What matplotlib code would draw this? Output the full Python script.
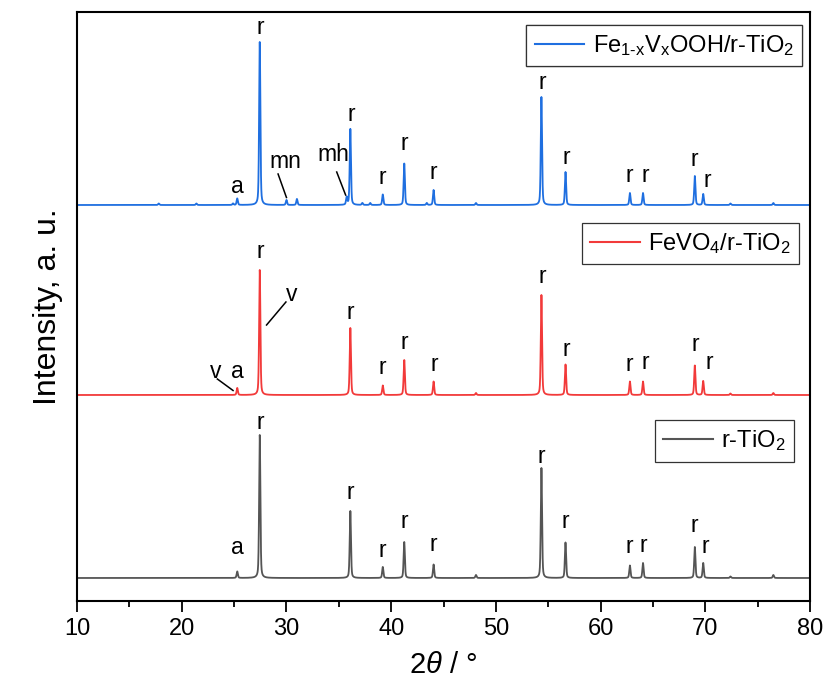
import numpy as np
import matplotlib
matplotlib.use('Agg')
import matplotlib.pyplot as plt
from matplotlib.lines import Line2D

plt.rcParams['font.family'] = ['Liberation Sans', 'DejaVu Sans']
plt.rcParams['mathtext.fontset'] = 'custom'
plt.rcParams['mathtext.rm'] = 'Liberation Sans'
plt.rcParams['mathtext.it'] = 'Liberation Sans:italic'

# peak positions (2theta) and heights (a.u.)
tio2_pos = [25.3, 27.45, 36.1, 39.2, 41.25, 44.05, 48.1, 54.35, 56.65, 62.8, 64.05, 69.0, 69.8, 72.4, 76.5]
tio2_h = [6.5, 143, 67, 11, 36, 13.5, 3, 110, 35.5, 12.5, 15, 31, 15, 1.5, 3]

fevo4_pos = [25.3, 27.45, 36.1, 39.2, 41.25, 44.05, 48.1, 54.35, 56.65, 62.8, 64.05, 69.0, 69.8, 72.4, 76.5]
fevo4_h = [7, 125, 67, 9.5, 35, 13.5, 2, 100, 30.5, 13.5, 13.5, 29.5, 14, 1.5, 2]

fevooh_pos = [17.8, 21.4, 24.9, 25.3, 27.45, 30.0, 31.0, 35.75, 36.1, 37.25, 38.0, 39.2, 41.25, 43.4, 44.05,
              48.1, 54.35, 56.65, 62.8, 64.05, 69.0, 69.8, 72.4, 76.5]
fevooh_h = [1.5, 1.5, 1.5, 6.5, 163, 5, 6, 7.5, 76, 2, 2, 10.5, 41.5, 2, 15,
            2, 108, 33, 12, 12, 29, 11, 1.5, 2]

offsets = [23, 206, 396]
names = ['r-TiO$_2$', 'FeVO$_4$/r-TiO$_2$', r'Fe$_{\mathrm{1\text{-}x}}$V$_\mathrm{x}$OOH/r-TiO$_2$']
colors = ['#555555', '#f23a3a', '#1f6fe0']

# peak labels: text, 2theta, height above own baseline
tio2_lbl = [('a', 25.3, 30), ('r', 27.5, 155), ('r', 36.1, 85), ('r', 39.2, 27), ('r', 41.25, 56),
            ('r', 44.05, 33), ('r', 54.35, 121), ('r', 56.65, 56), ('r', 62.7, 31), ('r', 64.1, 32),
            ('r', 68.95, 52), ('r', 70.0, 31)]
fevo4_lbl = [('v', 23.2, 23), ('a', 25.3, 23), ('r', 27.5, 143), ('v', 30.5, 100), ('r', 36.1, 82),
             ('r', 39.2, 27), ('r', 41.25, 52), ('r', 44.1, 30), ('r', 54.4, 118), ('r', 56.7, 45),
             ('r', 62.7, 30), ('r', 64.3, 32), ('r', 69.0, 50), ('r', 70.4, 32)]
fevooh_lbl = [('a', 25.3, 19), ('r', 27.5, 178), ('mn', 29.9, 44), ('mh', 34.5, 51), ('r', 36.2, 91),
              ('r', 39.2, 28), ('r', 41.25, 62), ('r', 44.05, 33), ('r', 54.4, 123), ('r', 56.7, 48),
              ('r', 62.7, 30), ('r', 64.3, 30), ('r', 68.95, 46), ('r', 70.2, 25)]
# leader lines: (x0, y0, x1, y1) relative to own baseline
fevo4_lead = [(23.4, 16, 24.9, 4.5), (29.95, 93, 28.1, 70)]
fevooh_lead = [(29.2, 31, 30.0, 7.5), (34.8, 33, 35.65, 10)]


def pattern(x, pos, h, fwhm=0.14):
    y = np.zeros_like(x)
    for p, a in zip(pos, h):
        g = np.exp(-4 * np.log(2) * (x - p) ** 2 / fwhm ** 2)
        l = 1 / (1 + 4 * (x - p) ** 2 / fwhm ** 2)
        y += a * (0.6 * g + 0.4 * l)
    return y


x = np.arange(10, 80.001, 0.01)
series = [(tio2_pos, tio2_h), (fevo4_pos, fevo4_h), (fevooh_pos, fevooh_h)]
labels = [tio2_lbl, fevo4_lbl, fevooh_lbl]
leads = [[], fevo4_lead, fevooh_lead]

fig = plt.figure(figsize=(8.23, 6.9), dpi=100)
ax = fig.add_axes([0.0936, 0.129, 0.8906, 0.8536])

for (pos, h), off, col, lbl, ld in zip(series, offsets, colors, labels, leads):
    ax.plot(x, off + pattern(x, pos, h), color=col, lw=1.3)
    for t, xp, yp in lbl:
        ax.text(xp, off + yp, t, ha='center', va='center', fontsize=16.5)
    for x0, y0, x1, y1 in ld:
        ax.plot([x0, x1], [off + y0, off + y1], color='black', lw=1.1)

# one legend box per pattern
legend_anchor = [(0.978, 0.307), (0.985, 0.642), (0.989, 0.978)]
for name, col, anc in zip(names, colors, legend_anchor):
    leg = ax.legend([Line2D([], [], color=col, lw=1.5)], [name], loc='upper right',
                    bbox_to_anchor=anc, borderaxespad=0, fontsize=17, handlelength=2.1,
                    handletextpad=0.35, borderpad=0.35, fancybox=False, framealpha=1)
    leg.get_frame().set_edgecolor('#333333')
    leg.get_frame().set_linewidth(0.9)
    ax.add_artist(leg)

ax.set_xlim(10, 80)
ax.set_ylim(0, 589)
ax.set_xticks(np.arange(10, 81, 10))
ax.set_xticks(np.arange(15, 80, 10), minor=True)
ax.set_yticks([])
ax.tick_params(axis='x', which='major', direction='out', length=8, width=1.3, labelsize=17, pad=4)
ax.tick_params(axis='x', which='minor', direction='out', length=4.5, width=1.3)
for s in ax.spines.values():
    s.set_linewidth(1.5)

ax.set_xlabel(r'$\mathit{2\theta}$ / °', fontsize=21, labelpad=8)
ax.set_ylabel('Intensity, a. u.', fontsize=23, labelpad=10)

fig.savefig('out.png', dpi=100)
